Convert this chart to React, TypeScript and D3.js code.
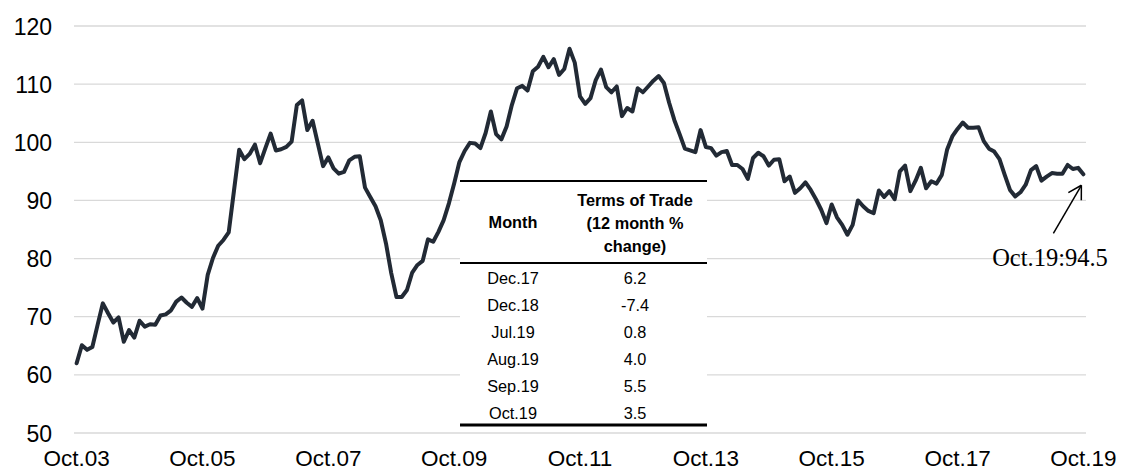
import React from "react";
import * as d3 from "d3";

// monthly index, Oct.03 .. Oct.19
const tradeIndex = [
  62.0, 65.1, 64.3, 64.8, 68.6, 72.3, 70.6, 69.0, 69.9, 65.7, 67.7, 66.4,
  69.3, 68.3, 68.7, 68.6, 70.2, 70.4, 71.1, 72.6, 73.3, 72.4, 71.7, 73.2,
  71.4, 77.2, 80.1, 82.2, 83.2, 84.5, 91.6, 98.7, 97.1, 98.0, 99.6, 96.4,
  99.0, 101.5, 98.6, 98.8, 99.2, 100.1, 106.4, 107.2, 102.1, 103.7, 99.8, 95.9,
  97.4, 95.5, 94.6, 94.9, 96.9, 97.5, 97.6, 92.2, 90.6, 89.0, 86.6, 82.6,
  77.5, 73.4, 73.4, 74.6, 77.6, 78.9, 79.6, 83.3, 82.9, 84.6, 86.6, 89.5,
  92.9, 96.6, 98.5, 99.9, 99.8, 99.0, 101.6, 105.3, 101.4, 100.5, 102.7, 106.4,
  109.3, 109.7, 108.9, 112.2, 113.0, 114.7, 112.9, 114.3, 111.6, 112.6, 116.1, 113.7,
  107.9, 106.6, 107.6, 110.7, 112.5, 109.5, 108.6, 109.6, 104.5, 105.9, 105.3, 109.3,
  108.6, 109.6, 110.6, 111.4, 110.2, 106.8, 103.8, 101.4, 98.9, 98.6, 98.3, 102.1,
  99.2, 99.0, 97.7, 98.3, 98.5, 96.1, 96.1, 95.4, 93.7, 97.3, 98.2, 97.6,
  96.0, 97.0, 97.1, 93.3, 94.1, 91.3, 92.1, 93.1, 91.8, 90.2, 88.4, 86.1,
  89.3, 87.1, 85.8, 84.1, 85.8, 90.0, 89.0, 88.2, 87.8, 91.7, 90.6, 91.6,
  90.2, 95.0, 96.0, 91.6, 93.4, 95.6, 92.1, 93.3, 92.9, 94.4, 98.7, 101.0,
  102.3, 103.4, 102.5, 102.5, 102.6, 100.2, 98.9, 98.4, 97.1, 94.4, 91.8, 90.7,
  91.4, 92.7, 95.2, 95.9, 93.4, 94.1, 94.7, 94.6, 94.6, 96.1, 95.4, 95.6,
  94.5,
];

const months = d3.timeMonth.range(new Date(2003, 9, 1), new Date(2019, 10, 1));
const fmtMonth = d3.timeFormat("%b.%y");
const yTicks = [50, 60, 70, 80, 90, 100, 110, 120];

const tableMonths = ["Dec.17", "Dec.18", "Jul.19", "Aug.19", "Sep.19", "Oct.19"];
const tableChanges = ["6.2", "-7.4", "0.8", "4.0", "5.5", "3.5"];
const tableHeader = ["Terms of Trade", "(12 month %", "change)"];

const lastLabel = "Oct.19:94.5";

const W = 1121;
const H = 472;
const SANS = "'Liberation Sans', Arial, sans-serif";

export default function App() {
  const x = d3
    .scalePoint<number>()
    .domain(d3.range(months.length))
    .range([74, 1086])
    .padding(0.5);
  const y = d3.scaleLinear().domain([50, 120]).range([433, 26]);

  const line = d3
    .line<number>()
    .x((_, i) => x(i) as number)
    .y((d) => y(d));

  const lastI = tradeIndex.length - 1;
  const tipX = (x(lastI) as number) - 2;
  const tipY = y(tradeIndex[lastI]) + 11;
  const tailX = tipX - 28;
  const tailY = tipY + 48;
  // open arrow head, wings 30deg either side of the shaft
  const back = Math.atan2(tailY - tipY, tailX - tipX);
  const wing = (a: number) =>
    `M${tipX + 15 * Math.cos(a)},${tipY + 15 * Math.sin(a)}L${tipX},${tipY}`;

  const tblL = 460;
  const tblR = 707;
  const col1 = 513;
  const col2 = 635;
  const tblTop = 181;
  const tblSep = 263;
  const tblBot = 425;

  return (
    <div style={{ position: "absolute", left: 0, top: 0 }}>
      <svg width={W} height={H} style={{ display: "block", background: "#fff" }}>
        {/* grid + y labels */}
        {yTicks.map((t) => (
          <g key={t}>
            <line x1={74} x2={1086} y1={y(t)} y2={y(t)} stroke="#d9d9d9" strokeWidth={1.3} />
            <text
              x={52}
              y={y(t) + 8.5}
              textAnchor="end"
              fontFamily={SANS}
              fontSize={23}
              fill="#000"
            >
              {t}
            </text>
          </g>
        ))}

        {/* x labels every two years */}
        {months.map((m, i) =>
          i % 24 === 0 ? (
            <text
              key={i}
              x={x(i)}
              y={466}
              textAnchor="middle"
              fontFamily={SANS}
              fontSize={22.5}
              fill="#000"
            >
              {fmtMonth(m)}
            </text>
          ) : null
        )}

        <path
          d={line(tradeIndex) ?? ""}
          fill="none"
          stroke="#222a35"
          strokeWidth={4}
          strokeLinejoin="round"
          strokeLinecap="round"
        />

        {/* inset table */}
        <rect x={tblL} y={tblTop} width={tblR - tblL} height={tblBot - tblTop} fill="#fff" />
        <line x1={tblL} x2={tblR} y1={tblTop} y2={tblTop} stroke="#000" strokeWidth={2} />
        <line x1={tblL} x2={tblR} y1={tblSep} y2={tblSep} stroke="#000" strokeWidth={2.2} />
        <line x1={tblL} x2={tblR} y1={tblBot} y2={tblBot} stroke="#000" strokeWidth={3} />
        <text x={col1} y={228} textAnchor="middle" fontFamily={SANS} fontSize={16.3} fontWeight="bold">
          Month
        </text>
        {tableHeader.map((h, i) => (
          <text
            key={h}
            x={col2}
            y={205.5 + i * 23}
            textAnchor="middle"
            fontFamily={SANS}
            fontSize={16.3}
            fontWeight="bold"
          >
            {h}
          </text>
        ))}
        {tableMonths.map((m, i) => (
          <g key={m}>
            <text x={col1} y={284.3 + i * 27} textAnchor="middle" fontFamily={SANS} fontSize={16.3}>
              {m}
            </text>
            <text x={col2} y={284.3 + i * 27} textAnchor="middle" fontFamily={SANS} fontSize={16.3}>
              {tableChanges[i]}
            </text>
          </g>
        ))}

        {/* last value callout */}
        <line x1={tailX} y1={tailY} x2={tipX} y2={tipY} stroke="#000" strokeWidth={1.5} />
        <path
          d={wing(back - Math.PI / 6) + wing(back + Math.PI / 6)}
          fill="none"
          stroke="#000"
          strokeWidth={1.5}
        />
        <text
          x={1050}
          y={266}
          textAnchor="middle"
          fontFamily="'Liberation Serif', 'Times New Roman', serif"
          fontSize={24.5}
          fill="#000"
        >
          {lastLabel}
        </text>
      </svg>
    </div>
  );
}
